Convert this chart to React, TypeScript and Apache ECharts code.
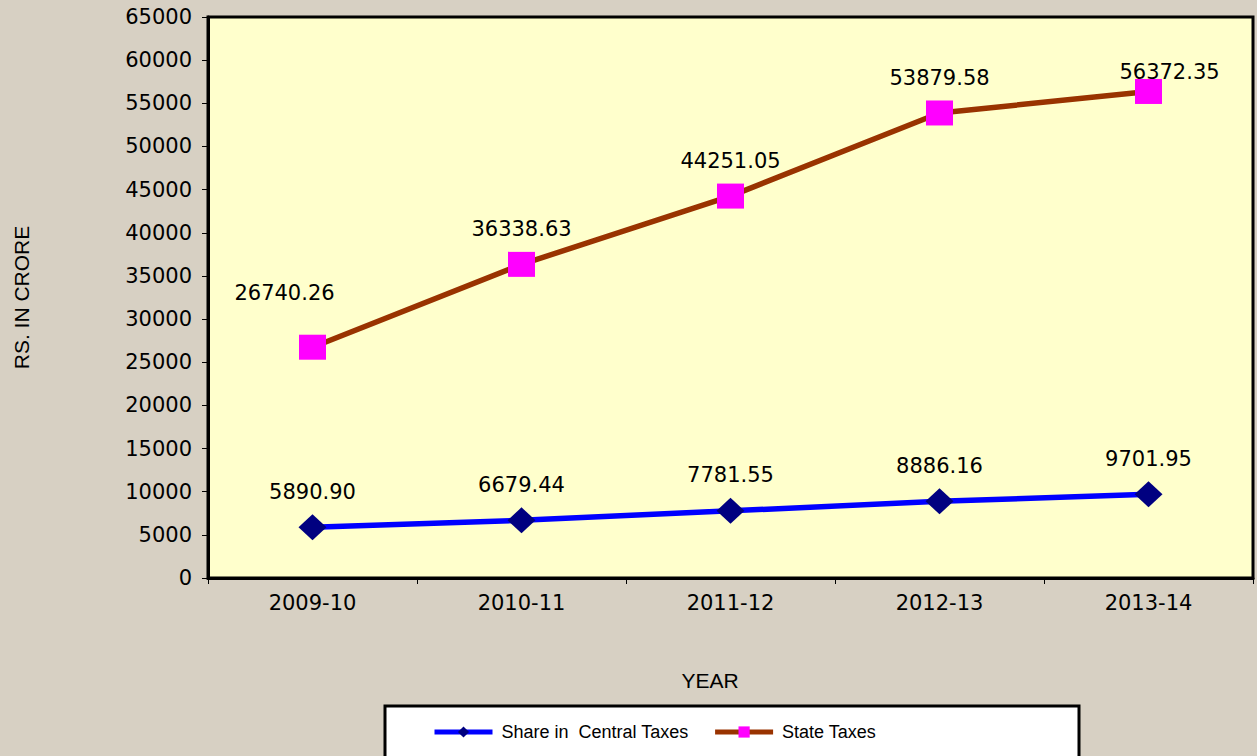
import React, { useEffect, useRef } from "react";
import * as echarts from "echarts";

const years = ["2009-10", "2010-11", "2011-12", "2012-13", "2013-14"];
const centralShare = [5890.9, 6679.44, 7781.55, 8886.16, 9701.95];
const stateTaxes = [26740.26, 36338.63, 44251.05, 53879.58, 56372.35];
const centralName = "Share in  Central Taxes";
const stateName = "State Taxes";
const yMin = 0;
const yMax = 65000;
const yStep = 5000;

const NUM_FONT = "'DejaVu Sans', 'Liberation Sans', Arial, sans-serif";
const TXT_FONT = "'Liberation Sans', Arial, sans-serif";

export default function App() {
  const ref = useRef<HTMLDivElement>(null);
  useEffect(() => {
    document.body.style.margin = "0";
    if (!ref.current) return;
    const chart = echarts.init(ref.current, null, { renderer: "svg" });
    const stateOffsets: Record<number, number[]> = { 0: [-28, -19], 4: [21, 16] };
    const labelFmt = (p: any) => Number(p.value).toFixed(2);
    chart.setOption({
      animation: false,
      backgroundColor: "#d7d0c3",
      grid: {
        left: 208,
        right: 4,
        top: 17,
        bottom: 178,
        show: true,
        backgroundColor: "#FFFFCC",
        borderColor: "#000",
        borderWidth: 3,
      },
      xAxis: {
        type: "category",
        data: years,
        boundaryGap: true,
        axisLine: { lineStyle: { color: "#000", width: 3 } },
        axisTick: { show: true, length: 6, lineStyle: { color: "#000", width: 1 } },
        axisLabel: { color: "#000", fontSize: 21, fontFamily: NUM_FONT, margin: 14 },
        splitLine: { show: false },
      },
      yAxis: {
        type: "value",
        min: yMin,
        max: yMax,
        interval: yStep,
        name: "RS. IN CRORE",
        nameLocation: "middle",
        nameRotate: 90,
        nameGap: 176,
        nameTextStyle: { color: "#000", fontSize: 21, fontFamily: TXT_FONT },
        axisLine: { show: true, lineStyle: { color: "#000", width: 3 } },
        axisTick: { show: true, length: 6, lineStyle: { color: "#000", width: 1 } },
        axisLabel: {
          color: "#000",
          fontSize: 21,
          fontFamily: NUM_FONT,
          margin: 16,
          formatter: (v: number) => String(v),
        },
        splitLine: { show: false },
      },
      legend: {
        show: true,
        left: 427,
        top: 718,
        itemWidth: 58,
        itemHeight: 14,
        itemGap: 24,
        lineStyle: { width: 5 },
        textStyle: {
          color: "#000",
          fontSize: 18,
          fontFamily: TXT_FONT,
          padding: [0, 0, 0, 4],
        },
        data: [centralName, stateName],
      },
      graphic: [
        {
          type: "rect",
          z: -1,
          shape: { x: 385, y: 706, width: 694, height: 60 },
          style: { fill: "#fff", stroke: "#000", lineWidth: 3 },
        },
        {
          type: "text",
          x: 710,
          y: 680,
          style: {
            text: "YEAR",
            fill: "#000",
            font: "21px " + TXT_FONT,
            textAlign: "center",
            textVerticalAlign: "middle",
          },
        },
      ],
      series: [
        {
          name: centralName,
          type: "line",
          data: centralShare,
          symbol: "diamond",
          symbolSize: [28, 26],
          lineStyle: { color: "#0000FF", width: 5.5 },
          itemStyle: { color: "#000080" },
          label: {
            show: true,
            position: "top",
            distance: 12,
            color: "#000",
            fontSize: 21,
            fontFamily: NUM_FONT,
            formatter: labelFmt,
          },
          z: 3,
        },
        {
          name: stateName,
          type: "line",
          data: stateTaxes.map((v, i) =>
            stateOffsets[i] ? { value: v, label: { offset: stateOffsets[i] } } : v
          ),
          symbol: "rect",
          symbolSize: [27, 25],
          lineStyle: { color: "#993300", width: 5.5 },
          itemStyle: { color: "#FF00FF" },
          label: {
            show: true,
            position: "top",
            distance: 12,
            color: "#000",
            fontSize: 21,
            fontFamily: NUM_FONT,
            formatter: labelFmt,
          },
          z: 3,
        },
      ],
    });
    return () => chart.dispose();
  }, []);
  return (
    <div
      ref={ref}
      style={{ position: "absolute", left: 0, top: 0, width: 1257, height: 756 }}
    />
  );
}
